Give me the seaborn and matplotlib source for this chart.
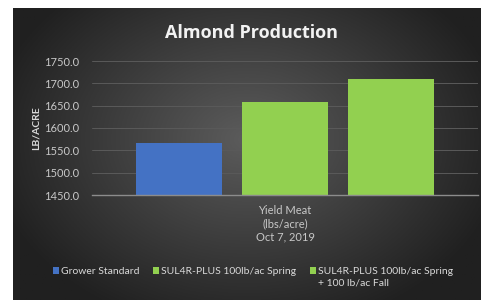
import numpy as np
import pandas as pd
import matplotlib
matplotlib.use("Agg")
import matplotlib.pyplot as plt
import seaborn as sns

categories = ["Yield Meat\n(lbs/acre)\nOct 7, 2019"]
series = ["Grower Standard", "SUL4R-PLUS 100lb/ac Spring",
          "SUL4R-PLUS 100lb/ac Spring\n+ 100 lb/ac Fall"]
values = [1567.0, 1658.0, 1710.0]
yticks = [1450.0, 1500.0, 1550.0, 1600.0, 1650.0, 1700.0, 1750.0]
colors = ["#4472C4", "#92D050", "#92D050"]

df = pd.DataFrame({"cat": categories * len(series), "series": series, "value": values})

sns.set_theme(style="dark")
plt.rcParams["font.family"] = ["Lato", "DejaVu Sans"]

W, H = 490, 307
fig = plt.figure(figsize=(W / 100, H / 100), dpi=100)
fig.patch.set_facecolor("white")

# background panel with radial gradient
bx0, bx1, by0, by1 = 13, 480, 8, 300
bg = fig.add_axes([bx0 / W, 1 - by1 / H, (bx1 - bx0) / W, (by1 - by0) / H])
yy, xx = np.mgrid[0:1:200j, 0:1:300j]
r = np.sqrt(((xx - 0.5) / 0.75) ** 2 + ((yy - 0.45) / 0.9) ** 2)
r = np.clip(r / 0.75, 0, 1)
c0 = np.array([0x5c, 0x5c, 0x5c]) / 255
c1 = np.array([0x20, 0x20, 0x20]) / 255
img = c0[None, None, :] * (1 - r[..., None]) + c1[None, None, :] * r[..., None]
bg.imshow(img, aspect="auto", extent=[0, 1, 0, 1])
bg.set_axis_off()

ax = fig.add_axes([92 / W, 1 - 195 / H, (478 - 92) / W, (195 - 61) / H])
ax.patch.set_alpha(0)
sns.barplot(data=df, x="cat", y="value", hue="series", palette=colors,
            ax=ax, width=0.824, gap=0.18, saturation=1, linewidth=0, legend=True)
ax.set_ylim(1450, 1750)
ax.set_yticks(yticks)
ax.set_yticklabels([f"{v:.1f}" for v in yticks])
ax.grid(axis="y", color="#5a5a5a", linewidth=0.7)
ax.set_axisbelow(True)
for s in ["top", "right", "left"]:
    ax.spines[s].set_visible(False)
ax.spines["bottom"].set_color("#8c8c8c")
ax.spines["bottom"].set_linewidth(1.0)
ax.tick_params(axis="both", colors="#c8c8c8", labelsize=8, length=0, pad=9)
ax.tick_params(axis="x", pad=7)
for t in ax.get_xticklabels():
    t.set_linespacing(1.25)
ax.set_xlabel("")
ax.set_ylabel("LB/ACRE", color="#d9d9d9", fontsize=7.5, fontweight="bold", labelpad=3)

handles, labels = ax.get_legend_handles_labels()
ax.get_legend().remove()
leg = fig.legend(handles, labels, loc="upper center", bbox_to_anchor=(253 / W, 1 - 262 / H),
                 ncol=3, frameon=False, fontsize=7.5, handlelength=0.6, handleheight=0.6,
                 handletextpad=0.2, columnspacing=1.3, labelcolor="#d9d9d9", borderpad=0)
leg._legend_handle_box.align = "top"
for col in leg._legend_handle_box.get_children():
    col.align = "left"
    for item in col.get_children():
        item.align = "top"
for t in leg.get_texts():
    t.set_linespacing(1.3)

fig.text(251 / W, 1 - 33 / H, "Almond Production", ha="center", va="center",
         color="#f2f2f2", fontsize=13, fontweight="bold", family="Open Sans")

fig.savefig("out.png", dpi=100, facecolor="white")
